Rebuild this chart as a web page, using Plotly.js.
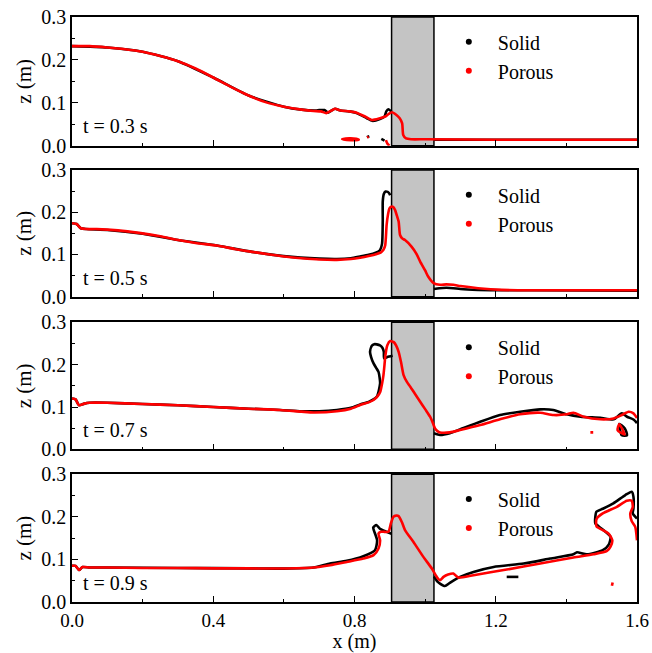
<!DOCTYPE html>
<html>
<head>
<meta charset="utf-8">
<script src="https://cdn.plot.ly/plotly-3.0.1.min.js"></script>
<style>
body { margin: 0; }
#chart text { font-family: "Liberation Serif", serif !important; }
</style>
</head>
<body>
<div id="chart" style="width:652px;height:653px;"></div>
<script>
// ---------- data ----------
const panelTimes = ["t = 0.3 s", "t = 0.5 s", "t = 0.7 s", "t = 0.9 s"];
const seriesNames = ["Solid", "Porous"];
const xTickVals = [0, 0.4, 0.8, 1.2, 1.6];
const yTickVals = [0, 0.1, 0.2, 0.3];
const structureX = [0.905, 1.025];

// t = 0.3 s
const solid03X = [0, 0.1, 0.2, 0.3, 0.4, 0.5, 0.6, 0.65, 0.69, 0.7, 0.715, 0.725, 0.735, 0.745, 0.76, 0.785, 0.806, 0.835, 0.85, 0.872, 0.885, 0.89, 0.896, 0.905, null, 1.025, 1.2, 1.4, 1.6, null, 0.835, 0.842, null, 0.876, 0.885];
const solid03Y = [0.232, 0.229, 0.219, 0.197, 0.159, 0.117, 0.091, 0.084, 0.082, 0.083, 0.083, 0.077, 0.082, 0.086, 0.082, 0.080, 0.076, 0.064, 0.058, 0.062, 0.068, 0.080, 0.085, 0.079, null, 0.014, 0.014, 0.014, 0.014, null, 0.020, 0.022, null, 0.016, 0.012];
const porous03X = [0, 0.05, 0.1, 0.15, 0.2, 0.25, 0.3, 0.35, 0.4, 0.45, 0.5, 0.55, 0.6, 0.65, 0.684, 0.705, 0.72, 0.735, 0.745, 0.76, 0.785, 0.806, 0.83, 0.849, 0.872, 0.887, 0.897, 0.906, 0.918, 0.928, 0.935, 0.938, 0.946, 0.96, 1.0, 1.2, 1.4, 1.6, null, 0.765, 0.785, 0.805, 0.812, 0.79, 0.765, null, 0.836, 0.84, null, 0.889, 0.893, 0.899];
const porous03Y = [0.232, 0.232, 0.229, 0.225, 0.219, 0.209, 0.197, 0.180, 0.159, 0.137, 0.117, 0.101, 0.091, 0.084, 0.081, 0.080, 0.076, 0.082, 0.086, 0.082, 0.080, 0.077, 0.068, 0.060, 0.064, 0.068, 0.074, 0.078, 0.072, 0.064, 0.052, 0.025, 0.017, 0.015, 0.015, 0.014, 0.014, 0.014, null, 0.015, 0.017, 0.016, 0.014, 0.013, 0.015, null, 0.019, 0.021, null, 0.013, 0.005, 0.0];

// t = 0.5 s
const solid05X = [0, 0.013, 0.025, 0.04, 0.1, 0.2, 0.3, 0.41, 0.51, 0.6, 0.7, 0.75, 0.79, 0.816, 0.84, 0.86, 0.872, 0.878, 0.88, 0.88, 0.883, 0.888, 0.894, 0.898, 0.901, null, 1.025, 1.04, 1.06, 1.08, 1.1, 1.15, 1.22, 1.3, 1.6];
const solid05Y = [0.174, 0.172, 0.162, 0.160, 0.158, 0.149, 0.134, 0.121, 0.106, 0.096, 0.090, 0.089, 0.091, 0.095, 0.099, 0.104, 0.110, 0.125, 0.180, 0.225, 0.243, 0.249, 0.248, 0.245, 0.240, null, 0.018, 0.020, 0.021, 0.020, 0.018, 0.016, 0.015, 0.015, 0.014];
const porous05X = [0, 0.013, 0.025, 0.04, 0.07, 0.13, 0.19, 0.25, 0.3, 0.35, 0.41, 0.46, 0.51, 0.56, 0.6, 0.65, 0.7, 0.75, 0.79, 0.816, 0.84, 0.863, 0.875, 0.882, 0.887, 0.891, 0.895, 0.899, 0.904, 0.91, 0.915, 0.92, 0.925, 0.929, 0.935, 0.943, 0.962, 0.975, 0.986, 1.0, 1.009, 1.024, 1.042, 1.06, 1.08, 1.1, 1.15, 1.217, 1.3, 1.4, 1.5, 1.6];
const porous05Y = [0.174, 0.172, 0.162, 0.160, 0.160, 0.157, 0.151, 0.143, 0.134, 0.127, 0.121, 0.113, 0.106, 0.100, 0.095, 0.091, 0.088, 0.087, 0.089, 0.092, 0.096, 0.101, 0.105, 0.111, 0.122, 0.170, 0.195, 0.209, 0.213, 0.212, 0.205, 0.192, 0.178, 0.146, 0.138, 0.134, 0.118, 0.102, 0.083, 0.062, 0.047, 0.032, 0.028, 0.029, 0.028, 0.025, 0.020, 0.016, 0.015, 0.015, 0.015, 0.015];

// t = 0.7 s
const solid07X = [0, 0.01, 0.02, 0.035, 0.05, 0.1, 0.2, 0.3, 0.4, 0.5, 0.589, 0.65, 0.7, 0.75, 0.79, 0.816, 0.84, 0.863, 0.8725, 0.871, 0.868, 0.861, 0.854, 0.847, 0.844, 0.849, 0.856, 0.863, 0.872, 0.879, 0.883, 0.884, 0.893, 0.908, null, 1.025, 1.042, 1.07, 1.099, 1.156, 1.212, 1.269, 1.326, 1.363, 1.401, 1.44, 1.496, 1.534, 1.557, 1.572, 1.591, 1.6, null, 1.55, 1.557, 1.572, 1.565, 1.55];
const solid07Y = [0.120, 0.118, 0.104, 0.108, 0.110, 0.110, 0.107, 0.104, 0.100, 0.096, 0.093, 0.090, 0.090, 0.093, 0.098, 0.106, 0.112, 0.124, 0.156, 0.170, 0.183, 0.193, 0.203, 0.218, 0.2305, 0.2447, 0.2485, 0.248, 0.2455, 0.240, 0.2305, 0.215, 0.218, 0.221, null, 0.0378, 0.0338, 0.038, 0.047, 0.065, 0.081, 0.0888, 0.0945, 0.093, 0.0827, 0.077, 0.0745, 0.0709, 0.085, 0.077, 0.070, 0.062, null, 0.060, 0.033, 0.033, 0.050, 0.060];
const porous07X = [0, 0.01, 0.02, 0.035, 0.05, 0.1, 0.2, 0.3, 0.4, 0.5, 0.589, 0.65, 0.684, 0.75, 0.79, 0.816, 0.84, 0.854, 0.865, 0.873, 0.878, 0.882, 0.885, 0.887, 0.893, 0.901, 0.912, 0.918, 0.925, 0.932, 0.939, 0.948, 0.958, 0.972, 0.986, 1.0, 1.014, 1.022, 1.028, 1.035, 1.042, 1.07, 1.099, 1.156, 1.212, 1.269, 1.326, 1.363, 1.401, 1.42, 1.449, 1.496, 1.534, 1.557, 1.576, 1.59, 1.6, null, 1.545, 1.55, 1.56, 1.565, 1.545, null, 1.468, 1.476];
const porous07Y = [0.120, 0.118, 0.104, 0.108, 0.110, 0.110, 0.107, 0.104, 0.100, 0.096, 0.093, 0.089, 0.087, 0.090, 0.096, 0.1046, 0.111, 0.1165, 0.125, 0.136, 0.155, 0.1755, 0.200, 0.2187, 0.246, 0.2558, 0.2527, 0.245, 0.2305, 0.205, 0.1755, 0.160, 0.148, 0.130, 0.1124, 0.095, 0.077, 0.062, 0.0496, 0.043, 0.040, 0.040, 0.0456, 0.0574, 0.0709, 0.0827, 0.0865, 0.081, 0.0827, 0.0865, 0.077, 0.0709, 0.073, 0.081, 0.0888, 0.085, 0.074, null, 0.045, 0.060, 0.045, 0.035, 0.045, null, 0.040, 0.040];

// t = 0.9 s
const solid09X = [0, 0.01, 0.02, 0.03, 0.05, 0.1, 0.3, 0.5, 0.6, 0.684, 0.731, 0.778, 0.825, 0.858, 0.864, 0.855, 0.853, 0.862, 0.872, 0.891, 0.905, null, 1.025, 1.035, 1.042, 1.056, 1.07, 1.099, 1.137, 1.194, 1.279, 1.354, 1.42, 1.43, 1.458, 1.503, 1.52, 1.525, 1.5, 1.482, 1.482, 1.485, 1.503, 1.533, 1.567, 1.585, 1.59, 1.59, 1.588, 1.6, null, 1.231, 1.25, 1.264];
const solid09Y = [0.085, 0.085, 0.075, 0.082, 0.081, 0.081, 0.080, 0.079, 0.0785, 0.081, 0.0904, 0.0966, 0.1076, 0.1217, 0.145, 0.168, 0.175, 0.181, 0.172, 0.165, 0.160, null, 0.060, 0.048, 0.0433, 0.0374, 0.045, 0.059, 0.0707, 0.0824, 0.0904, 0.102, 0.112, 0.117, 0.112, 0.1217, 0.135, 0.153, 0.172, 0.1846, 0.200, 0.212, 0.219, 0.2317, 0.2513, 0.259, 0.247, 0.220, 0.208, 0.196, null, 0.059, 0.059, 0.059];
const porous09X = [0, 0.01, 0.02, 0.03, 0.05, 0.1, 0.2, 0.3, 0.4, 0.5, 0.589, 0.684, 0.731, 0.778, 0.825, 0.854, 0.868, 0.8725, 0.868, 0.875, 0.882, 0.896, 0.903, 0.910, 0.918, 0.925, 0.934, 0.943, 0.967, 0.995, 1.019, 1.033, 1.042, 1.052, 1.065, 1.08, 1.094, 1.137, 1.231, 1.326, 1.42, 1.477, 1.515, 1.525, 1.53, 1.52, 1.503, 1.486, 1.484, 1.486, 1.503, 1.543, 1.571, 1.585, 1.588, 1.581, 1.585, 1.595, 1.6, null, 1.529, 1.531];
const porous09Y = [0.085, 0.085, 0.075, 0.082, 0.081, 0.081, 0.080, 0.080, 0.079, 0.079, 0.0786, 0.081, 0.0864, 0.094, 0.102, 0.110, 0.1257, 0.145, 0.161, 0.165, 0.165, 0.165, 0.1846, 0.200, 0.203, 0.2018, 0.188, 0.169, 0.141, 0.106, 0.0786, 0.059, 0.051, 0.059, 0.0645, 0.0668, 0.0574, 0.063, 0.0762, 0.0904, 0.1045, 0.112, 0.120, 0.130, 0.145, 0.160, 0.169, 0.1766, 0.186, 0.196, 0.208, 0.2237, 0.238, 0.238, 0.2237, 0.208, 0.190, 0.1766, 0.145, null, 0.038, 0.046];

const solidX = [solid03X, solid05X, solid07X, solid09X];
const solidY = [solid03Y, solid05Y, solid07Y, solid09Y];
const porousX = [porous03X, porous05X, porous07X, porous09X];
const porousY = [porous03Y, porous05Y, porous07Y, porous09Y];

// ---------- layout ----------
const domains = [[0.780, 1.0], [0.522, 0.7385], [0.261, 0.478], [0.0, 0.2183]];
const colors = ["#000000", "#ff0000"];
function f(size) { return {family: "Liberation Serif", size: size, color: "#000000"}; }

const traces = [];
const layout = {
  width: 652, height: 653,
  margin: {l: 72, r: 15, t: 17, b: 51},
  paper_bgcolor: "#ffffff", plot_bgcolor: "#ffffff",
  font: f(17),
  showlegend: true,
  shapes: [], annotations: []
};

for (let i = 0; i < 4; i++) {
  const s = i === 0 ? "" : String(i + 1);
  const xa = "x" + s, ya = "y" + s;
  const lg = i === 0 ? "legend" : "legend" + (i + 1);
  traces.push({x: solidX[i], y: solidY[i], xaxis: xa, yaxis: ya, mode: "lines",
    line: {color: colors[0], width: 2.6, shape: "spline", smoothing: 0.6}, showlegend: false, hoverinfo: "skip"});
  traces.push({x: porousX[i], y: porousY[i], xaxis: xa, yaxis: ya, mode: "lines",
    line: {color: colors[1], width: 2.6, shape: "spline", smoothing: 0.6}, showlegend: false, hoverinfo: "skip"});
  for (let k = 0; k < 2; k++) {
    traces.push({x: [null], y: [null], xaxis: xa, yaxis: ya, mode: "markers",
      marker: {color: colors[k], size: 6}, name: seriesNames[k], legend: lg, showlegend: true});
  }
  const xax = {
    domain: [0, 1], anchor: ya, range: [0, 1.6],
    showline: true, mirror: true, linecolor: "#000", linewidth: 1.5,
    showgrid: false, zeroline: false,
    ticks: "inside", ticklen: 6, tickwidth: 1.3, tickcolor: "#000",
    tickvals: xTickVals, tickformat: ".1f", showticklabels: i === 3,
    tickfont: f(19),
    minor: {tickvals: [0.2, 0.6, 1.0, 1.4], ticks: "inside", ticklen: 3, tickwidth: 1.3, tickcolor: "#000"}
  };
  if (i === 3) xax.title = {text: "x (m)", font: f(20), standoff: 6};
  layout["xaxis" + s] = xax;
  layout["yaxis" + s] = {
    domain: domains[i], anchor: xa, range: [0, 0.3],
    showline: true, mirror: true, linecolor: "#000", linewidth: 1.5,
    showgrid: false, zeroline: false,
    ticks: "inside", ticklen: 6, tickwidth: 1.3, tickcolor: "#000",
    tickvals: yTickVals, tickformat: ".1f",
    tickfont: f(20),
    minor: {tickvals: [0.05, 0.15, 0.25], ticks: "inside", ticklen: 3, tickwidth: 1.3, tickcolor: "#000"},
    title: {text: "z (m)", font: f(21), standoff: 4}
  };
  layout[lg] = {
    x: 0.651, xanchor: "left", y: domains[i][1] - 0.009, yanchor: "top",
    bgcolor: "rgba(0,0,0,0)", borderwidth: 0,
    font: f(20),
    itemwidth: 48, tracegroupgap: 0
  };
  layout.shapes.push({type: "rect", xref: xa, yref: ya + " domain",
    x0: structureX[0], x1: structureX[1], y0: 0, y1: 1,
    fillcolor: "#c4c4c4", line: {color: "#000", width: 1.5}, layer: "below"});
  layout.annotations.push({xref: xa, yref: ya, x: 0.025, y: 0.045,
    text: panelTimes[i], showarrow: false, xanchor: "left", yanchor: "middle",
    font: f(20)});
}

Plotly.newPlot("chart", traces, layout, {displayModeBar: false});
</script>
</body>
</html>
